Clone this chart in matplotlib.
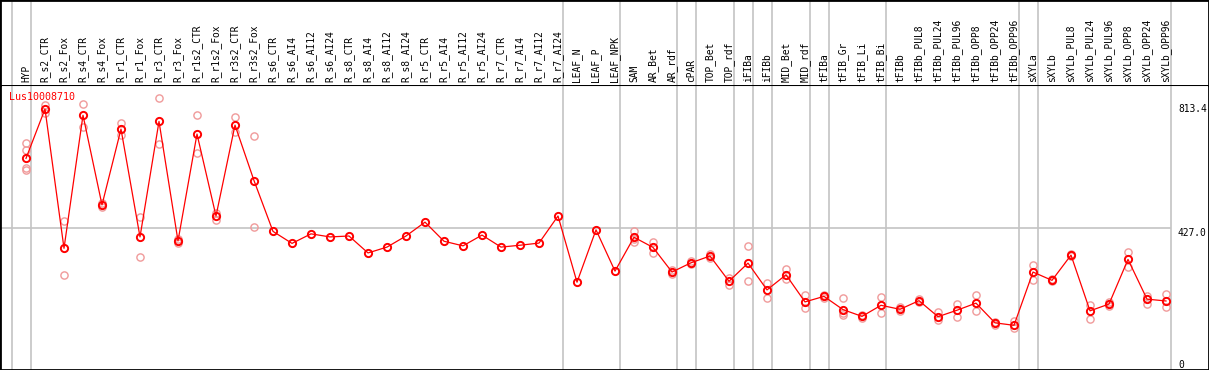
import matplotlib
matplotlib.use("Agg")
import matplotlib.pyplot as plt
from matplotlib.transforms import blended_transform_factory

# ---- data ----
labels = ["HYP", "R_s2_CTR", "R_s2_Fox", "R_s4_CTR", "R_s4_Fox", "R_r1_CTR", "R_r1_Fox",
          "R_r3_CTR", "R_r3_Fox", "R_r1s2_CTR", "R_r1s2_Fox", "R_r3s2_CTR", "R_r3s2_Fox",
          "R_s6_CTR", "R_s6_AI4", "R_s6_AI12", "R_s6_AI24", "R_s8_CTR", "R_s8_AI4", "R_s8_AI12",
          "R_s8_AI24", "R_r5_CTR", "R_r5_AI4", "R_r5_AI12", "R_r5_AI24", "R_r7_CTR", "R_r7_AI4",
          "R_r7_AI12", "R_r7_AI24", "LEAF_N", "LEAF_P", "LEAF_NPK", "SAM", "AR_Bet", "AR_rdf",
          "cPAR", "TOP_Bet", "TOP_rdf", "iFIBa", "iFIBb", "MID_Bet", "MID_rdf", "tFIBa",
          "tFIB_Gr", "tFIB_Li", "tFIB_Bi", "tFIBb", "tFIBb_PUL8", "tFIBb_PUL24", "tFIBb_PUL96",
          "tFIBb_OPP8", "tFIBb_OPP24", "tFIBb_OPP96", "sXYLa", "sXYLb", "sXYLb_PUL8",
          "sXYLb_PUL24", "sXYLb_PUL96", "sXYLb_OPP8", "sXYLb_OPP24", "sXYLb_OPP96"]

means = [653, 813.4, 361, 793, 502, 748, 398, 773, 385, 732, 466, 761, 581,
         416, 377, 408, 398, 401, 346, 365, 401, 446, 384, 369, 404, 365, 371, 378, 466,
         251, 421, 287, 397, 364, 284, 314, 336, 254, 313, 226, 275, 187, 205,
         162, 140, 176, 163, 191, 139, 160, 183, 119, 111, 284, 257, 339, 158, 180,
         325, 196, 190]

replicates = [
    [702, 679, 621, 615], [826, 801], [450, 274], [830, 756], [507, 496], [769, 729],
    [464, 332], [848, 699], [390, 377], [793, 670], [475, 453], [786, 739], [726, 430],
    [], [], [], [], [], [], [], [], [], [], [], [], [], [], [], [],
    [], [], [],
    [417, 392, 382], [382, 347], [289, 279], [319, 310], [342, 330], [266, 242],
    [368, 255], [247, 201], [294, 262], [208, 166], [210, 200], [199, 151, 145],
    [145, 134], [203, 150], [170, 156], [196, 188], [155, 128], [179, 139],
    [209, 158], [123, 112], [126, 101], [308, 258], [260, 254], [344, 335],
    [177, 133], [187, 174], [348, 301], [206, 180], [213, 170],
]

# gray separators sit just after these sample indices
group_ends = [-1, 0, 28, 31, 34, 35, 37, 38, 39, 41, 42, 45, 52, 53, 60]

gene = "Lus10008710"
ref_ticks = [813.4, 427.0, 0]

# ---- layout (pixels of a 1209x370 canvas) ----
W, H = 1209, 370
header_h = 85
x0, step = 26, 19           # pixel of first sample, pixel spacing
px_per_unit = 1 / 3.247     # value -> pixel
zero_px = 359.5             # pixel row of value 0

RED = "#ff0000"
PINK = "#f09a9a"
GRAY = "#c4c4c4"
FONT = "DejaVu Sans Mono"

fig = plt.figure(figsize=(W / 100, H / 100), dpi=100)
ax = fig.add_axes([0, 0, 1, (H - header_h) / H])
hax = fig.add_axes([0, (H - header_h) / H, 1, header_h / H])

xlim = (-x0 / step, (W - x0) / step)
ylim = (-(H - zero_px) / px_per_unit, (zero_px - header_h) / px_per_unit)
for a in (ax, hax):
    a.set_xlim(*xlim)
    a.set_xticks([])
    a.set_yticks([])
    for s in a.spines.values():
        s.set_color("black")
        s.set_linewidth(2)
ax.set_ylim(*ylim)
hax.set_ylim(0, 1)
hax.spines["bottom"].set_visible(False)
ax.spines["top"].set_linewidth(1.5)

# group separators
sep_off = 5 / step
for g in group_ends:
    ax.axvline(g + sep_off, color=GRAY, lw=1.2, zorder=1)
    hax.axvline(g + sep_off, color=GRAY, lw=1.2, zorder=1)

right_edge = group_ends[-1] + sep_off
ax.hlines(ref_ticks[1], xlim[0], right_edge, color=GRAY, lw=1.2, zorder=1)

# replicates
xs = list(range(len(labels)))
for i, reps in enumerate(replicates):
    if reps:
        ax.plot([i] * len(reps), reps, "o", ms=5.2, mfc="none", mec=PINK, mew=1.0, zorder=2)

# means
ax.plot(xs, means, "-", color=RED, lw=0.9, zorder=3)
ax.plot(xs, means, "o", ms=5.2, mfc="none", mec=RED, mew=1.4, zorder=4)

# sample names in header
for i, lab in enumerate(labels):
    hax.text(i, 3 / header_h, lab, rotation=90, ha="center", va="bottom",
             fontsize=6.9, family=FONT, color="black")

# value labels on the right
lab_x = (1178 - x0) / step
tr = ax.transData
ax.text(lab_x, ref_ticks[0], f"{ref_ticks[0]:.1f}", ha="left", va="center",
        fontsize=6.9, family=FONT, transform=tr)
ax.text(lab_x, ref_ticks[1], f"{ref_ticks[1]:.1f}", ha="left", va="top",
        fontsize=6.9, family=FONT, transform=tr)
ax.text(lab_x, ref_ticks[2], "0", ha="left", va="top",
        fontsize=6.9, family=FONT, transform=tr)

# gene name
ax.text(9 / W, (H - 97) / (H - header_h), gene, transform=ax.transAxes,
        ha="left", va="center", fontsize=7.2, family=FONT, color=RED)

fig.savefig("out.png", dpi=100)
